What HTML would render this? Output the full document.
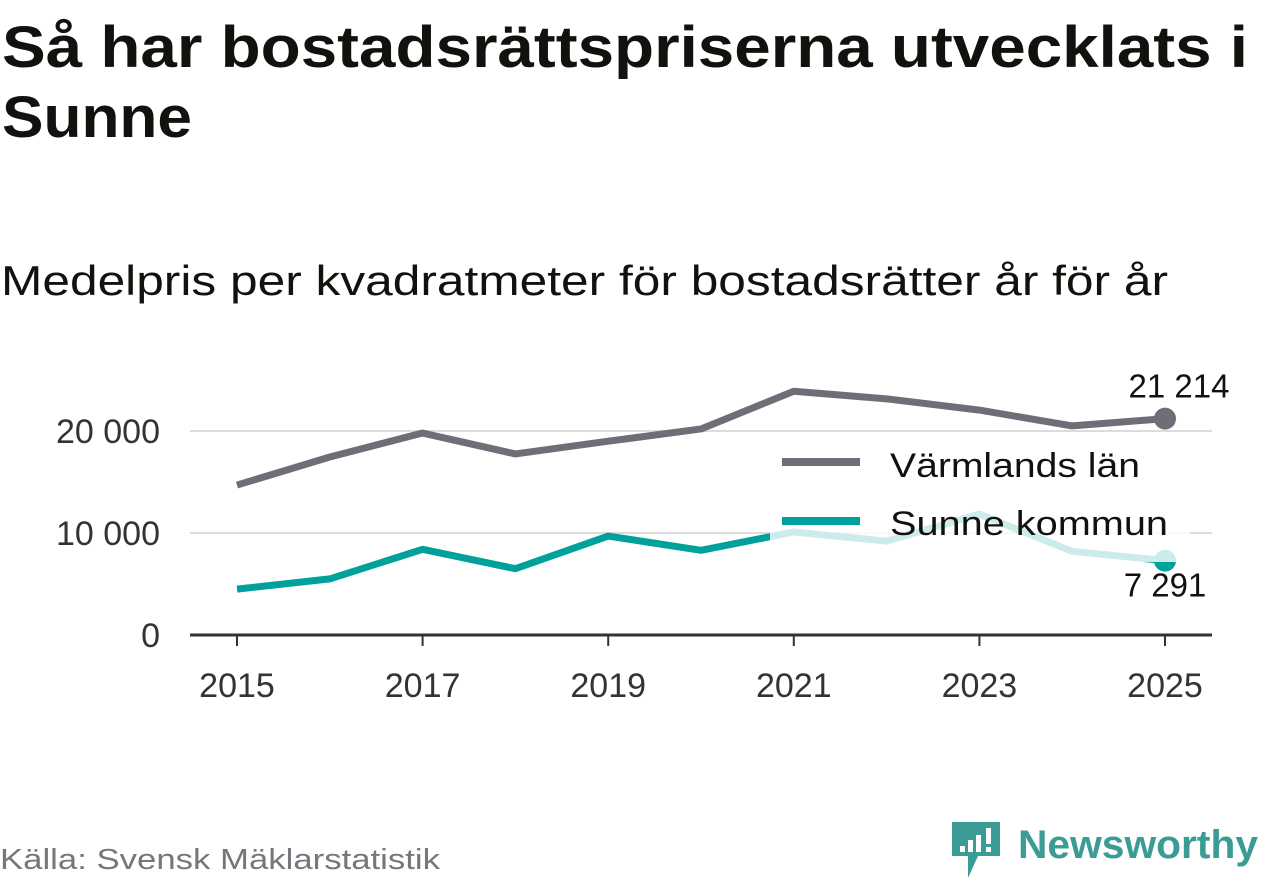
<!DOCTYPE html>
<html><head><meta charset="utf-8"><style>
body{margin:0;background:#fff;width:1262px;height:879px;overflow:hidden}
svg{display:block;font-family:"Liberation Sans","DejaVu Sans",sans-serif}
</style></head><body>
<svg width="1262" height="879">
<text x="2" y="67" font-size="58" font-weight="bold" fill="#11120d" textLength="1246" lengthAdjust="spacingAndGlyphs">Så har bostadsrättspriserna utvecklats i</text>
<text x="2" y="137" font-size="58" font-weight="bold" fill="#11120d" textLength="190" lengthAdjust="spacingAndGlyphs">Sunne</text>
<text x="1" y="295" font-size="42" fill="#11120d" textLength="1167" lengthAdjust="spacingAndGlyphs">Medelpris per kvadratmeter för bostadsrätter år för år</text>
<g id="grid"></g>
<g id="lines"></g>
<g id="legend">
<rect x="770" y="440" width="420" height="122" fill="#fff" opacity="0.8"></rect>
<line x1="782" y1="462" x2="860" y2="462" stroke="#6f6e76" stroke-width="8"/>
<text x="890" y="477" font-size="34" fill="#11120d" textLength="250" lengthAdjust="spacingAndGlyphs">Värmlands län</text>
<line x1="782" y1="521" x2="860" y2="521" stroke="#00a19a" stroke-width="8"/>
<text x="890" y="535" font-size="34" fill="#11120d" textLength="278" lengthAdjust="spacingAndGlyphs">Sunne kommun</text>
</g>
<g id="toplayer"></g>
<text x="0" y="869" font-size="29" fill="#77767c" textLength="440" lengthAdjust="spacingAndGlyphs">Källa: Svensk Mäklarstatistik</text>
<g>
<path d="M952 822h48v34h-22l-10 22v-22h-16z" fill="#3a9c94"/>
<rect x="960" y="846" width="5" height="6" fill="#fff"/><rect x="968" y="840" width="5" height="12" fill="#fff"/><rect x="976" y="835" width="5" height="17" fill="#fff"/><rect x="986" y="828" width="5" height="16" fill="#fff"/><rect x="986" y="847" width="5" height="5" fill="#fff"/>
<text x="1018" y="858" font-size="40" font-weight="bold" fill="#3a9c94" textLength="240" lengthAdjust="spacingAndGlyphs">Newsworthy</text>
</g>
</svg>
<script>
const years=[2015,2016,2017,2018,2019,2020,2021,2022,2023,2024,2025];
const varmland=[14700,17450,19800,17750,19000,20200,23900,23150,22050,20500,21214];
const sunne=[4500,5500,8400,6500,9700,8300,10100,9200,11850,8200,7291];
const yTicks=[0,10000,20000];
const yTickLabels=["0","10 000","20 000"];
const xTicks=[2015,2017,2019,2021,2023,2025];
const NS="http://www.w3.org/2000/svg";
const xs=y=>237+(y-2015)*92.8;
const ys=v=>635-v*0.0102;
function mk(tag,attrs,parent){const e=document.createElementNS(NS,tag);for(const k in attrs)e.setAttribute(k,attrs[k]);parent.appendChild(e);return e;}
const gridG=document.getElementById('grid'),linesG=document.getElementById('lines'),topG=document.getElementById('toplayer');
yTicks.forEach((t,i)=>{
 if(t>0){const g=mk('line',{x1:190,x2:1212,y1:ys(t),y2:ys(t),stroke:'#dcdcdc','stroke-width':2},gridG);
 
 }
 const l=mk('text',{x:160,y:ys(t)+12,'font-size':34,fill:'#333','text-anchor':'end'},gridG);
 
 
 l.textContent=yTickLabels[i];
});
const ax=mk('line',{x1:190,x2:1212,y1:635,y2:635,stroke:'#333','stroke-width':3},gridG);


xTicks.forEach(t=>{
 const k=mk('line',{x1:xs(t),x2:xs(t),y1:635,y2:646,stroke:'#333','stroke-width':2},gridG);
 
 
 const l=mk('text',{x:xs(t),y:697,'font-size':34,fill:'#333','text-anchor':'middle'},gridG);
 
 
 l.textContent=t;
});
function series(vals,color,name){
 const pts=vals.map((v,i)=>xs(years[i])+','+ys(v)).join(' ');
 const p=mk('polyline',{points:pts,fill:'none',stroke:color,'stroke-width':7,'stroke-linejoin':'round'},linesG);
 
 
 const n=vals.length-1;
 const c=mk('circle',{cx:xs(years[n]),cy:ys(vals[n]),r:11,fill:color},linesG);
 
 
}
series(varmland,'#6f6e76','varmland');
series(sunne,'#00a19a','sunne');
const n=years.length-1;
const l1=mk('text',{x:xs(years[n])+14,y:ys(varmland[n])-21,'font-size':33,fill:'#11120d','text-anchor':'middle'},topG);


l1.textContent='21 214';
const l2=mk('text',{x:xs(years[n]),y:ys(sunne[n])+36,'font-size':33,fill:'#11120d','text-anchor':'middle'},topG);


l2.textContent='7 291';
</script>
</body></html>
